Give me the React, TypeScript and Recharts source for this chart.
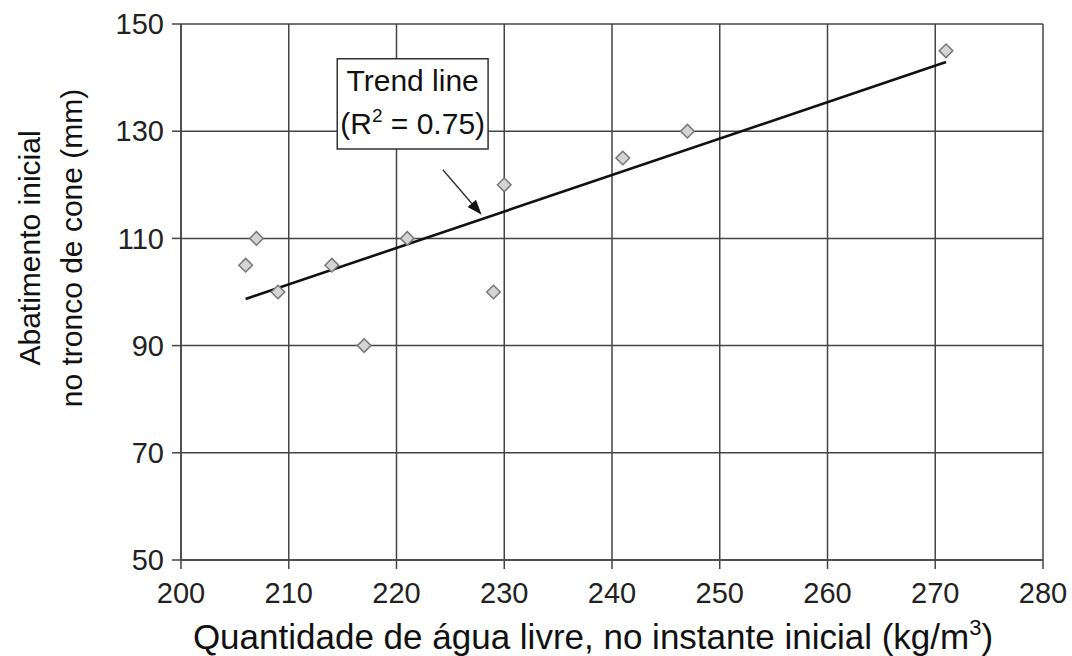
import React from 'react'
import {
  ScatterChart,
  Scatter,
  XAxis,
  YAxis,
  CartesianGrid,
  ReferenceLine,
  ReferenceArea,
} from 'recharts'

// water content (kg/m3) vs initial slump (mm)
const waterContent = [206, 207, 209, 214, 217, 221, 229, 230, 241, 247, 271]
const slump = [105, 110, 100, 105, 90, 110, 100, 120, 125, 130, 145]

// trend line ends
const trendX = [206, 271]
const trendY = [98.7, 142.9]

// annotation box + arrow (data units)
const boxX = [214.5, 228.5]
const boxY = [126.7, 143.5]
const arrowX = [224.3, 227.9]
const arrowY = [122.8, 114.4]

const xTicks = [200, 210, 220, 230, 240, 250, 260, 270, 280]
const yTicks = [50, 70, 90, 110, 130, 150]

const points = waterContent.map((x, i) => ({ x, y: slump[i] }))

const FONT = '"Liberation Sans", Arial, Helvetica, sans-serif'
const GRID = '#444'

const Diamond = (props: any) => {
  const { cx, cy } = props
  const r = 6.8
  return (
    <polygon
      points={`${cx},${cy - r} ${cx + r},${cy} ${cx},${cy + r} ${cx - r},${cy}`}
      fill="#d4d4d4"
      stroke="#777"
      strokeWidth={1.5}
    />
  )
}

const Arrow = (props: any) => {
  const { x1, y1, x2, y2 } = props
  const ang = Math.atan2(y2 - y1, x2 - x1)
  const len = 15
  const hw = 5.5
  const bx = x2 - len * Math.cos(ang)
  const by = y2 - len * Math.sin(ang)
  const px = -Math.sin(ang) * hw
  const py = Math.cos(ang) * hw
  return (
    <g>
      <line x1={x1} y1={y1} x2={bx} y2={by} stroke="#333" strokeWidth={1.4} />
      <polygon
        points={`${x2},${y2} ${bx + px},${by + py} ${bx - px},${by - py}`}
        fill="#111"
      />
    </g>
  )
}

const BoxLabel = (props: any) => {
  const vb = props.viewBox || {}
  const cx = vb.x + vb.width / 2
  return (
    <text x={cx} y={vb.y + 32} textAnchor="middle" fontSize={30} fill="#111" fontFamily={FONT}>
      <tspan x={cx}>Trend line</tspan>
      <tspan x={cx} dy={43}>(R</tspan>
      <tspan dy={-12} fontSize={19}>2</tspan>
      <tspan dy={12}> = 0.75)</tspan>
    </text>
  )
}

const XLabel = (props: any) => {
  const vb = props.viewBox || {}
  const cx = vb.x + vb.width / 2 - 19
  return (
    <text x={cx} y={649} textAnchor="middle" fontSize={35} fill="#111" fontFamily={FONT}>
      <tspan>Quantidade de água livre, no instante inicial (kg/m</tspan>
      <tspan dy={-14} fontSize={22}>3</tspan>
      <tspan dy={14}>)</tspan>
    </text>
  )
}

const YLabel = () => {
  const cy = 248
  return (
    <g>
      <text x={40} y={cy} transform={`rotate(-90, 40, ${cy})`} textAnchor="middle" fontSize={30} fill="#111" fontFamily={FONT}>
        Abatimento inicial
      </text>
      <text x={82} y={cy} transform={`rotate(-90, 82, ${cy})`} textAnchor="middle" fontSize={30} fill="#111" fontFamily={FONT}>
        no tronco de cone (mm)
      </text>
    </g>
  )
}

export default function App() {
  return (
    <div style={{ position: 'absolute', left: 0, top: 0, width: 1072, height: 656, background: '#fff', fontFamily: FONT }}>
      <ScatterChart width={1072} height={656} margin={{ top: 24, right: 29, bottom: 36, left: 81 }}>
        <CartesianGrid stroke={GRID} strokeWidth={1.5} />
        <XAxis
          type="number"
          dataKey="x"
          domain={[200, 280]}
          ticks={xTicks}
          interval={0}
          height={60}
          tickSize={9}
          tickMargin={13}
          stroke={GRID}
          strokeWidth={1.5}
          tick={{ fill: '#222', fontSize: 29, fontFamily: FONT }}
          label={XLabel}
        />
        <YAxis
          type="number"
          dataKey="y"
          domain={[50, 150]}
          ticks={yTicks}
          interval={0}
          width={100}
          tickSize={9}
          tickMargin={8}
          stroke={GRID}
          strokeWidth={1.5}
          tick={{ fill: '#222', fontSize: 29, fontFamily: FONT }}
          label={YLabel}
        />
        <ReferenceLine
          segment={[
            { x: trendX[0], y: trendY[0] },
            { x: trendX[1], y: trendY[1] },
          ]}
          stroke="#111"
          strokeWidth={2.6}
          ifOverflow="visible"
        />
        <ReferenceLine
          segment={[
            { x: arrowX[0], y: arrowY[0] },
            { x: arrowX[1], y: arrowY[1] },
          ]}
          shape={Arrow}
          ifOverflow="visible"
        />
        <ReferenceArea
          x1={boxX[0]}
          x2={boxX[1]}
          y1={boxY[0]}
          y2={boxY[1]}
          fill="#fff"
          fillOpacity={1}
          stroke="#333"
          strokeWidth={1.5}
          label={BoxLabel}
          ifOverflow="visible"
        />
        <Scatter data={points} shape={Diamond} isAnimationActive={false} />
      </ScatterChart>
    </div>
  )
}
